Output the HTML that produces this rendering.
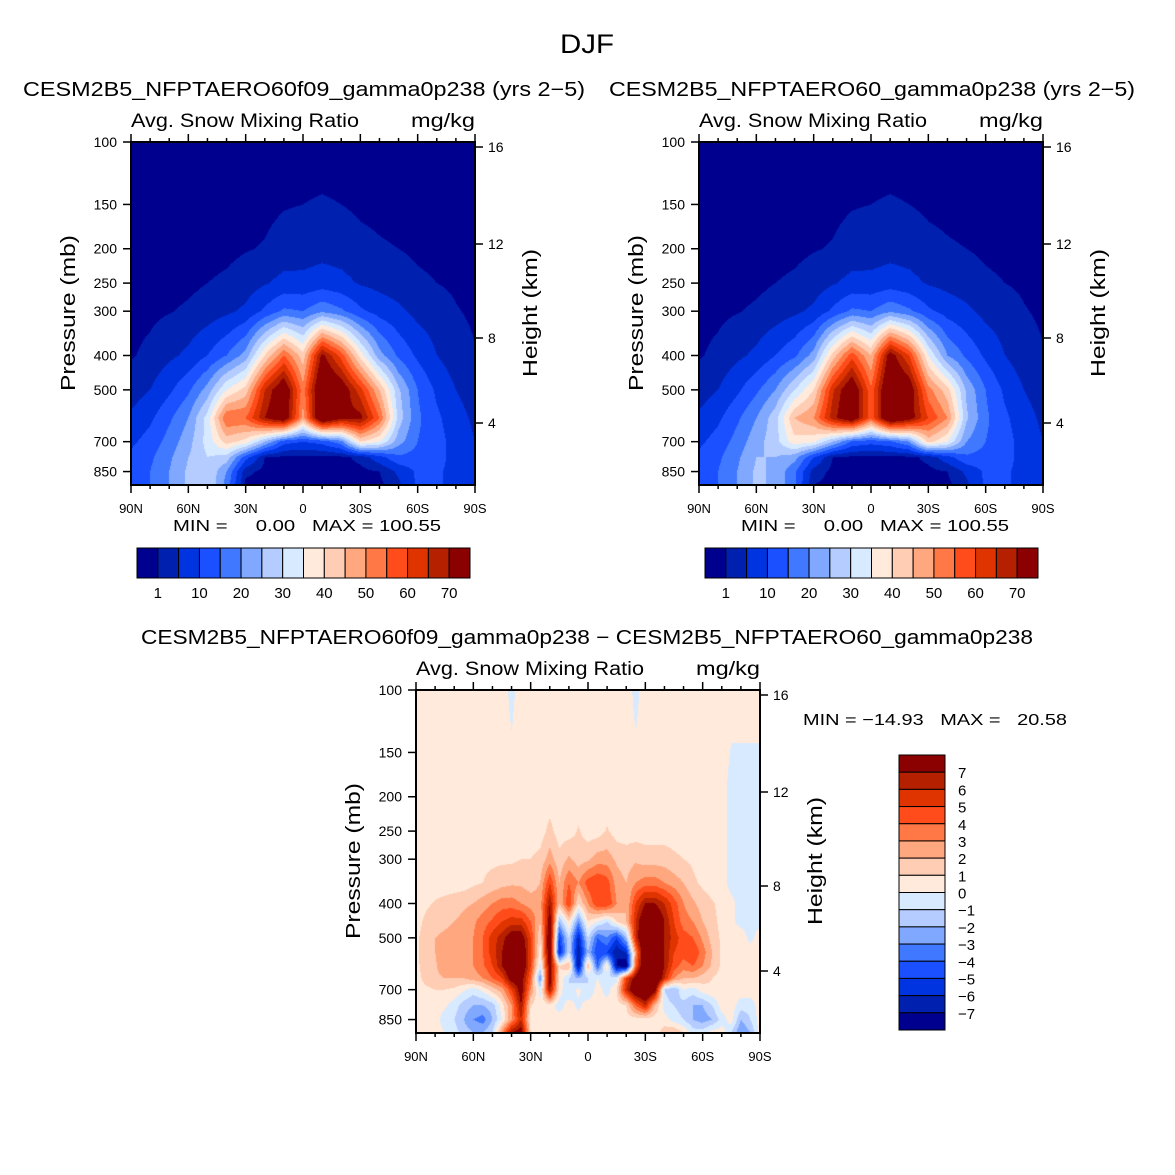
<!DOCTYPE html>
<html><head><meta charset="utf-8">
<style>
body{margin:0;background:#fff;}
#root{position:relative;width:1175px;height:1175px;overflow:hidden;background:#fff;font-family:"Liberation Sans",sans-serif;color:#000;}
canvas{position:absolute;}
svg{position:absolute;left:0;top:0;}
</style></head>
<body>
<div id="root">
<svg id="axes" width="1175" height="1175"></svg>
</div>
<script>
// ---------- DATA ----------
const lats10 = [90,80,70,60,50,40,30,20,10,0,-10,-20,-30,-40,-50,-60,-70,-80,-90];
const lats5 = [90,85,80,75,70,65,60,55,50,45,40,35,30,25,20,15,10,5,0,-5,-10,-15,-20,-25,-30,-35,-40,-45,-50,-55,-60,-65,-70,-75,-80,-85,-90];
const presAB = [100,150,200,250,300,400,500,600,700,775,850,925];
const presD = [100,200,250,300,350,400,450,500,550,600,650,700,775,850,925];
// panel 1 values: one row per latitude (90N..90S), columns = presAB
const snowA = [
[0,0,0,0,0,0.7,2.5,6,9,11,12,12],
[0,0,0,0,0.3,1.8,5,9,12,14,15,15],
[0,0,0,0,0.8,4,9,14,17,19,20,20],
[0,0,0,0.3,1.5,6,14,20,23,25,26,26],
[0,0,0,1,2.5,10,22,32,32,30,30,30],
[0,0,0.3,1.5,4,15,35,55,42,28,20,18],
[0,0,0.8,2.5,6,22,42,55,38,12,2,0],
[0,0.3,1.2,4.5,11,40,65,70,25,1,0,0],
[0,0.8,2.2,6.5,16,55,78,78,12,0,0,0],
[0,1,2.5,6.5,15,42,52,48,10,0,0,0],
[0,1.2,3.2,7.5,19,72,82,82,12,0,0,0],
[0,1,2.8,6.5,16,58,76,72,18,0,0,0],
[0,0.5,1.8,4.5,11,38,62,72,40,2,0,0],
[0,0.3,1.3,3.5,8,22,45,55,35,8,1,0],
[0,0,1,2.5,6,14,26,28,22,14,6,4],
[0,0,0.5,1.5,3.5,9,15,16,15,13,11,11],
[0,0,0.3,1,2.5,5,9,11,12,12,11,11],
[0,0,0,0.5,1.2,2.5,5,7,8,8,8,8],
[0,0,0,0,0.5,1.2,2.5,4,5,5,5,5]];
const snowB = [
[0,0,0,0,0,0.7,2.5,6,9,11,12,12],
[0,0,0,0,0.3,1.8,5,9,12,14,15,15],
[0,0,0,0,0.8,4,9,14,17,19,20,20],
[0,0,0,0.3,1.5,6,14,20,23,25,26,26],
[0,0,0,1,2.5,10,20,28,28,25,24,24],
[0,0,0.3,1.5,4,14,30,45,38,22,16,16],
[0,0,0.8,2.5,6,22,40,50,36,10,3,1],
[0,0.3,1.2,4.5,11,42,64,68,25,1,0,0],
[0,0.8,2.2,6.5,16,58,78,78,14,0,0,0],
[0,1,2.5,6.5,15,45,56,56,12,0,0,0],
[0,1.2,3.2,7.5,19,74,82,82,14,0,0,0],
[0,1,2.8,6.5,16,60,76,74,20,0,0,0],
[0,0.5,1.8,4.5,11,35,52,60,42,2,0,0],
[0,0.3,1.3,3.5,8,20,42,50,35,8,1,0],
[0,0,1,2.5,6,14,24,26,20,14,6,4],
[0,0,0.5,1.5,3.5,9,15,16,15,13,11,11],
[0,0,0.3,1,2.5,5,9,11,12,12,11,11],
[0,0,0,0.5,1.2,2.5,5,7,8,8,8,8],
[0,0,0,0,0.5,1.2,2.5,4,5,5,5,5]];
// difference values: one row per pressure (presD), columns = lats5
const snowDiff = [
[0.5,0.5,0.5,0.5,0.5,0.5,0.5,0.5,0.5,0.5,-0.3,0.5,0.5,0.5,0.5,0.5,0.5,0.5,0.5,0.5,0.5,0.5,0.5,-0.3,0.5,0.5,0.5,0.5,0.5,0.5,0.5,0.5,0.5,0.5,0.5,0.5,0.5],
[0.5,0.5,0.5,0.5,0.5,0.5,0.5,0.5,0.5,0.5,0.5,0.5,0.5,0.5,0.5,0.5,0.5,0.5,0.5,0.5,0.5,0.5,0.5,0.5,0.5,0.5,0.5,0.5,0.5,0.5,0.5,0.5,0.5,-0.5,-0.5,-0.5,-0.5],
[0.5,0.5,0.5,0.5,0.5,0.5,0.5,0.5,0.5,0.5,0.5,0.5,0.5,0.5,1.3,0.5,0.5,1.1,0.5,0.5,1.1,0.5,0.5,0.5,0.5,0.5,0.5,0.5,0.5,0.5,0.5,0.5,0.5,-0.5,-0.5,-0.5,-0.5],
[0.5,0.5,0.5,0.5,0.5,0.5,0.5,0.8,0.8,0.8,0.8,1.0,1.0,1.3,2.5,1.3,2.2,1.5,1.8,2.5,2.5,1.8,1.5,1.8,1.5,1.5,1.5,1.2,1.0,0.8,0.5,0.5,0.5,-0.5,-0.5,-0.5,-0.5],
[0.5,0.5,0.5,0.5,0.5,0.5,0.8,1.0,1.3,1.6,1.8,1.8,1.5,2,5,2,4,3,4.5,5,4.5,2.5,2,3,3.5,3.5,3,2.5,2,1.2,0.8,0.5,0.5,-0.4,-0.4,-0.4,-0.4],
[0.5,0.8,1.1,1.3,1.5,1.8,2,2.5,3,3.5,3.5,3,2.5,2.5,7,2,5,1,3,5,5,3,2,5,7,7,6,4.5,3,2.2,1.5,1.1,0.7,0.3,-0.4,-0.4,-0.4],
[0.6,1.2,1.6,1.8,2,2.3,2.8,3.5,4.2,5,5.5,5.5,4,2,8,-2,1,-3,1,0,-1,1,2,6,9,9,7,5,3.5,3,2,1.3,0.7,0.2,-0.3,-0.3,-0.3],
[0.8,1.4,2,2.2,2.3,2.5,3,4,5.5,6.5,8,8,5,1,9,-5,-1,-6,-1,-4,-3,-5,-2,6,10,10,7,5.5,4.5,4,2.8,1.6,0.8,0.3,0.5,-0.3,0.5],
[0.8,1.5,2,2.5,2.7,2.5,3,4,5.5,7,9,9,5,0.5,9,-6,-1,-7,-2,-5,-5,-7,-6,3,10,10,7,5,4.5,5,3.5,2,0.8,0.4,0.5,0.5,0.5],
[0.7,1.5,1.8,3,2.5,2.5,3,3.8,5,7,9,9,5,-0.5,8,1,2,-7,2,-4,1,-7,-8,4,10,10,7,4.5,3.5,4,3,1.8,0.8,0.4,0.5,0.5,0.5],
[0.6,1.3,1.6,2,2,2,2.5,3,4,5,8,8,4,-3,8,0.8,-1,-2,-1,0,-1,-0.5,5,8,10,10,6,3,2,2,1.5,1,0.6,0.4,0.5,0.5,0.5],
[0.5,0.8,1,1,0.8,0.2,-0.5,0.3,1.5,2.5,5,8,3,-0.5,7,0.5,-1,0.3,-1,0.5,-0.5,1,6,9,10,8,-1,-2,0,-0.5,0.5,0.8,0.5,0.5,0.5,0.5,0.5],
[0.5,0.3,0.5,0.2,-0.5,-1.5,-2,-2,-1.5,0.5,3,7,1,0.3,0.5,-0.5,0.5,-0.3,0.5,0.5,0.5,0.5,1,4,6,2,-0.5,-1,-1.5,-2,-2,-1,0.5,0.5,-0.5,-0.5,0.5],
[0.5,0.3,0.5,-0.5,-1,-2,-3,-3.5,-2,0,3,6,0.5,0.5,0.3,0.5,0.5,0.5,0.5,0.5,0.5,0.5,0.5,0.5,0.5,0.5,0.5,-0.5,-1,-2,-2.5,-2,-0.5,0.5,-2,-1,0.5],
[0.5,0.5,0.5,0,-0.5,-1.5,-2,-2,-1,3,7,8,1,0.5,0.5,0.5,0.5,0.5,0.5,0.5,0.5,0.5,0.5,0.5,0.5,0.5,1.5,2,1,-0.5,-0.5,0.5,0.5,-1,-3,-2,0.5]];
const levelsAB = [1,5,10,15,20,25,30,35,40,45,50,55,60,65,70];
const levelsD = [-7,-6,-5,-4,-3,-2,-1,0,1,2,3,4,5,6,7];
const labelsAB = ["1","10","20","30","40","50","60","70"];
const labelsD = ["−7","−6","−5","−4","−3","−2","−1","0","1","2","3","4","5","6","7"];
const colors = ["#00008e","#0020b0","#0034e0","#1a50ff","#4078ff","#80a8ff","#b4ccff","#d8eaff","#ffeadb","#ffccb4","#ffa880","#ff7845","#ff4c1a","#e03400","#b42000","#8b0000"];
const xTickLats = [90,60,30,0,-30,-60,-90];
const xTickLabels = ["90N","60N","30N","0","30S","60S","90S"];
const pTicks = [100,150,200,250,300,400,500,700,850];
const hTicks = [16,12,8,4];

// ---------- SCALES ----------
const W = 344, H = 343, K = 154;
function xOf(lat, x0){ return x0 + (90 - lat) / 180 * W; }
function yOfP(p, y0){ return y0 + K * Math.log(p / 100); }
const hOff = {16:5, 12:102, 8:196, 4:281};
function yOfH(h, y0){ return y0 + hOff[h]; }

const root = document.getElementById('root');
const svg = document.getElementById('axes');
const NS = 'http://www.w3.org/2000/svg';

function seg(arr, v){
  if (v <= arr[0]) return 0;
  for (let i = 0; i < arr.length - 1; i++) {
    if (v <= arr[i+1]) return i + (v - arr[i]) / (arr[i+1] - arr[i]);
  }
  return arr.length - 1;
}
function colorIdx(v, levels){
  let k = 0; while (k < levels.length && v >= levels[k]) k++; return k;
}
function hex(c){ return [parseInt(c.substr(1,2),16),parseInt(c.substr(3,2),16),parseInt(c.substr(5,2),16)]; }
const rgb = colors.map(hex);

function drawField(x0, y0, name, getVal, levels){
  const cv = document.createElement('canvas');
  cv.width = W; cv.height = H;
  cv.style.left = x0 + 'px'; cv.style.top = y0 + 'px';
  
  
  root.insertBefore(cv, svg);
  const ctx = cv.getContext('2d');
  const img = ctx.createImageData(W, H);
  for (let py = 0; py < H; py++) {
    const p = 100 * Math.exp((py + 0.5) / K);
    for (let px = 0; px < W; px++) {
      const lat = 90 - (px + 0.5) / W * 180;
      const v = getVal(lat, p);
      const c = rgb[colorIdx(v, levels)];
      const o = (py * W + px) * 4;
      img.data[o] = c[0]; img.data[o+1] = c[1]; img.data[o+2] = c[2]; img.data[o+3] = 255;
    }
  }
  ctx.putImageData(img, 0, 0);
}
function bilin(grid, fi, fj){
  const i0 = Math.min(Math.floor(fi), grid.length - 2), j0 = Math.min(Math.floor(fj), grid[0].length - 2);
  const a = fi - i0, b = fj - j0;
  return grid[i0][j0]*(1-a)*(1-b) + grid[i0+1][j0]*a*(1-b) + grid[i0][j0+1]*(1-a)*b + grid[i0+1][j0+1]*a*b;
}
const logAB = presAB.map(Math.log), logD = presD.map(Math.log);
function valAB(grid){ return (lat, p) => bilin(grid, (90 - lat) / 10, seg(logAB, Math.log(p))); }
function valD(lat, p){
  const fr = seg(logD, Math.log(p)), fc = (90 - lat) / 5;
  return bilin(snowDiff, fr, fc);
}

function el(tag, attrs, name){
  const e = document.createElementNS(NS, tag);
  for (const k in attrs) e.setAttribute(k, attrs[k]);
  
  
  svg.appendChild(e); return e;
}
function txt(x, y, s, size, anchor, name, extra){
  const e = el('text', Object.assign({x:x, y:y, 'font-size':size, 'text-anchor':anchor||'start', 'font-family':'Liberation Sans, sans-serif', 'xml:space':'preserve', style:'white-space:pre'}, extra||{}), name);
  e.textContent = s; return e;
}
function fit(len){ return {textLength:len, lengthAdjust:'spacingAndGlyphs'}; }

txt(587, 53, 'DJF', 27, 'middle', 'figure-title', fit(54));
txt(23, 96, 'CESM2B5_NFPTAERO60f09_gamma0p238 (yrs 2−5)', 20, 'start', 'panel1-title', fit(562));
txt(609, 96, 'CESM2B5_NFPTAERO60_gamma0p238 (yrs 2−5)', 20, 'start', 'panel2-title', fit(526));
txt(141, 644, 'CESM2B5_NFPTAERO60f09_gamma0p238 − CESM2B5_NFPTAERO60_gamma0p238', 20, 'start', 'panel3-title', fit(892));

function drawAxes(x0, y0, pfx){
  el('rect', {x:x0, y:y0, width:W, height:H, fill:'none', stroke:'#000', 'stroke-width':2}, pfx + '-frame');
  for (let lat = 90; lat >= -90; lat -= 10) {
    const x = xOf(lat, x0), major = lat % 30 === 0;
    const L = major ? 8 : 4;
    el('line', {x1:x, y1:y0, x2:x, y2:y0 - L, stroke:'#000', 'stroke-width':1.5}, pfx + '-top-tick');
    el('line', {x1:x, y1:y0 + H, x2:x, y2:y0 + H + L, stroke:'#000', 'stroke-width':1.5}, pfx + '-bottom-tick');
  }
  xTickLats.forEach((lat, i) => {
    txt(xOf(lat, x0), y0 + H + 28, xTickLabels[i], 13, 'middle', pfx + '-x-tick-label');
  });
  pTicks.forEach(p => {
    const y = yOfP(p, y0);
    el('line', {x1:x0 - 8, y1:y, x2:x0, y2:y, stroke:'#000', 'stroke-width':1.5}, pfx + '-p-tick');
    txt(x0 - 14, y + 5, String(p), 14, 'end', pfx + '-p-tick-label');
  });
  hTicks.forEach(h => {
    const y = yOfH(h, y0);
    el('line', {x1:x0 + W, y1:y, x2:x0 + W + 8, y2:y, stroke:'#000', 'stroke-width':1.5}, pfx + '-h-tick');
    txt(x0 + W + 13, y + 5, String(h), 14, 'start', pfx + '-h-tick-label');
  });
  txt(x0, y0 - 15, 'Avg. Snow Mixing Ratio', 19, 'start', pfx + '-long-name', fit(228));
  txt(x0 + W, y0 - 15, 'mg/kg', 19, 'end', pfx + '-units', fit(64));
  const yc = y0 + 171;
  txt(x0 - 56, yc, 'Pressure (mb)', 20, 'middle', pfx + '-y-axis-title', Object.assign({transform:'rotate(-90 ' + (x0 - 56) + ' ' + yc + ')'}, fit(156)));
  txt(x0 + W + 62, yc, 'Height (km)', 20, 'middle', pfx + '-y2-axis-title', Object.assign({transform:'rotate(-90 ' + (x0 + W + 62) + ' ' + yc + ')'}, fit(128)));
}

function hColorbar(x0, y0, pfx){
  const bw = 333 / 16;
  colors.forEach((c, i) => {
    el('rect', {x:x0 + i*bw, y:y0, width:bw, height:30, fill:c, stroke:'#000', 'stroke-width':1}, pfx + '-colorbar-box');
  });
  labelsAB.forEach((s, i) => {
    const k = i === 0 ? 0 : 2*i;
    txt(x0 + (k + 1) * bw, y0 + 50, s, 15, 'middle', pfx + '-colorbar-label');
  });
}

drawField(131, 142, 'panel1-contour-field', valAB(snowA), levelsAB);
drawField(699, 142, 'panel2-contour-field', valAB(snowB), levelsAB);
drawField(416, 690, 'panel3-contour-field', valD, levelsD);
drawAxes(131, 142, 'panel1');
drawAxes(699, 142, 'panel2');
drawAxes(416, 690, 'panel3');
txt(173, 531, 'MIN =     0.00   MAX = 100.55', 16, 'start', 'panel1-min-max', fit(268));
txt(741, 531, 'MIN =     0.00   MAX = 100.55', 16, 'start', 'panel2-min-max', fit(268));
txt(803, 725, 'MIN = −14.93   MAX =   20.58', 16, 'start', 'panel3-min-max', fit(264));
hColorbar(137, 548, 'panel1');
hColorbar(705, 548, 'panel2');
(function(){
  const x0 = 899, y0 = 755, bh = 275 / 16;
  for (let i = 0; i < 16; i++) {
    el('rect', {x:x0, y:y0 + i*bh, width:46, height:bh, fill:colors[15 - i], stroke:'#000', 'stroke-width':1}, 'panel3-colorbar-box');
  }
  for (let k = 0; k < 15; k++) {
    txt(958, y0 + (15 - k) * bh + 6, labelsD[k], 15, 'start', 'panel3-colorbar-label');
  }
})();
</script>
</body></html>
